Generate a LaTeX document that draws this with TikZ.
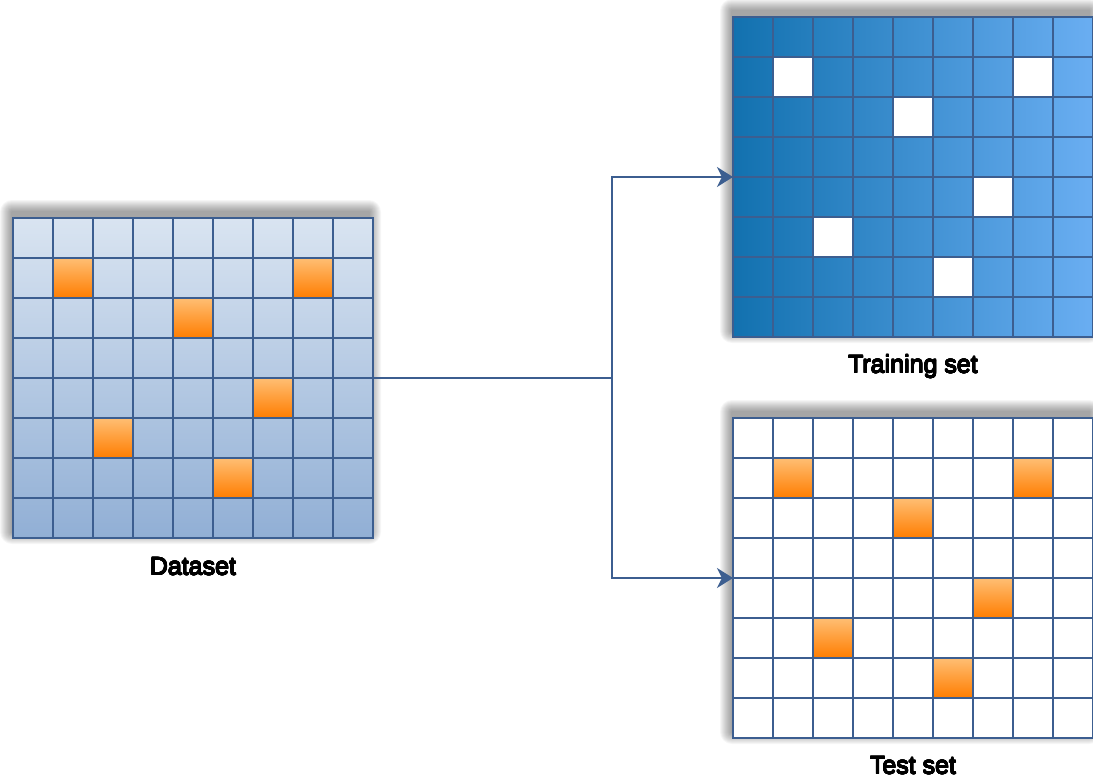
\documentclass[tikz,border=0pt]{standalone}
\usepackage{fontspec}
\setmainfont{Liberation Sans}
\usepackage[copies]{contour}
\contourlength{0.4pt}
\contournumber{16}
\usetikzlibrary{arrows.meta}

\definecolor{lineblue}{RGB}{60,94,144}
\definecolor{datatop}{RGB}{217,228,241}
\definecolor{databot}{RGB}{145,175,213}
\definecolor{trainleft}{RGB}{18,113,175}
\definecolor{trainright}{RGB}{106,174,242}
\definecolor{orangetop}{RGB}{255,190,115}
\definecolor{orangebot}{RGB}{255,125,0}

\tikzset{
  panel/.style={minimum width=360pt, minimum height=320pt, inner sep=0pt, outer sep=0pt},
  gridline/.style={draw=lineblue, line width=1.8pt, line cap=rect},
  pick/.style={top color=orangetop, bottom color=orangebot},
  hole/.style={fill=white},
  caption/.style={font=\fontsize{25}{30}\selectfont, text=black, anchor=base},
  link/.style={draw=lineblue, line width=1.6pt},
  tip/.style={-{Stealth[length=16pt,width=20pt,inset=5pt]}}
}
% slightly heavier caption text
\newcommand\captext[1]{\contour{black}{#1}}

% soft shadow behind a panel, strongest along its upper edge
\newcommand\panelshadow[1]{%
  \foreach \k in {1,...,12}{
    \fill[black, opacity=0.035, rounded corners=\k pt]
      ([xshift={-(\k+1)*1pt}, yshift={(\k+6)*1pt}]#1.north west) rectangle
      ([xshift={(\k-4)*1pt}, yshift={(6-\k)*1pt}]#1.south east);
  }%
}
% 9 x 8 cell grid over a panel
\newcommand\panelgrid[1]{%
  \foreach \i in {0,...,9}
    \draw[gridline] ([xshift=\i*40pt]#1.north west) -- ([xshift=\i*40pt]#1.south west);
  \foreach \j in {0,...,8}
    \draw[gridline] ([yshift=-\j*40pt]#1.north west) -- ([yshift=-\j*40pt]#1.north east);
}

\begin{document}
\begin{tikzpicture}[x=1pt, y=-1pt]
  \useasboundingbox (0,0) rectangle (1093,782);
  \clip (0,0) rectangle (1093,782);

  % panels
  \path node[panel] (data)  at (193,378) {}
        node[panel] (train) at (913,177) {}
        node[panel] (test)  at (913,578) {};

  \panelshadow{data}
  \panelshadow{train}
  \panelshadow{test}

  \fill[top color=datatop, bottom color=databot] (data.north west) rectangle (data.south east);
  \fill[left color=trainleft, right color=trainright] (train.north west) rectangle (train.south east);
  \fill[white] (test.north west) rectangle (test.south east);

  % selected cells
  \foreach \c/\r in {1/1,7/1,4/2,6/4,2/5,5/6}{
    \fill[pick] ([xshift=\c*40pt, yshift=-\r*40pt]data.north west) rectangle ++(40,40);
    \fill[hole] ([xshift=\c*40pt, yshift=-\r*40pt]train.north west) rectangle ++(40,40);
    \fill[pick] ([xshift=\c*40pt, yshift=-\r*40pt]test.north west) rectangle ++(40,40);
  }

  \panelgrid{data}
  \panelgrid{train}
  \panelgrid{test}

  % split connectors
  \coordinate (fork) at (612,378);
  \draw[link] (data.east) -- (fork);
  \draw[link, tip] (fork) |- (train.west);
  \draw[link, tip] (fork) |- (test.west);

  % captions
  \node[caption] (datacap)  at (193,575) {\captext{Dataset}};
  \node[caption] (traincap) at (913,373) {\captext{Training set}};
  \node[caption] (testcap)  at (913,774) {\captext{Test set}};
\end{tikzpicture}
\end{document}
